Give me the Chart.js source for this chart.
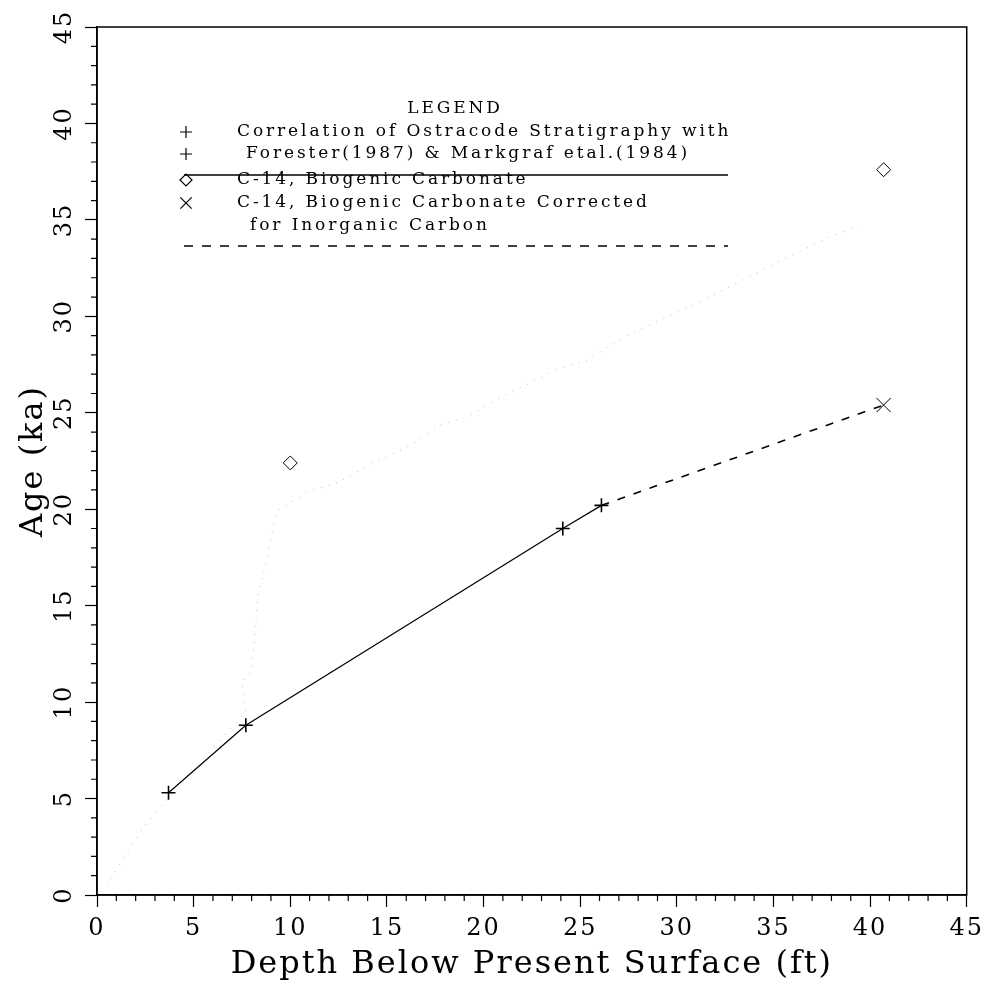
<!DOCTYPE html>
<html>
<head>
<meta charset="utf-8">
<title>Age vs Depth</title>
<script src="https://cdn.jsdelivr.net/npm/chart.js@4/dist/chart.umd.min.js"></script>
<style>
    html, body { margin: 0; padding: 0; background: #fff; }
</style>
</head>
<body>
<canvas id="canvas-age" width="991" height="987"></canvas>
<script>
// depth below present surface (ft) / age (ka)
var ostracodeDepth = [3.7, 7.7, 24.1, 26.1];
var ostracodeAge = [5.3, 8.8, 19.0, 20.2];

var c14Depth = [10.0, 40.7];
var c14Age = [22.4, 37.6];

var correctedDepth = [40.7];
var correctedAge = [25.4];

// faint pencil trace left on the sheet
var traceDepth = [0.5, 1.5, 2.4, 3.3, 7.7, 7.5, 8.0, 8.2, 8.3, 8.8, 9.3, 10.9, 12.5, 14.1, 16.2, 17.8, 19.2, 20.7, 23.9, 25.3, 27.4, 31.1, 35.8, 37.9, 39.4];
var traceAge = [0.5, 2.1, 3.5, 4.6, 9.5, 11.0, 11.6, 13.8, 15.4, 17.5, 19.9, 20.9, 21.4, 22.3, 23.3, 24.4, 24.8, 25.7, 27.3, 27.7, 29.0, 30.7, 33.1, 34.1, 34.7];

var axisTicks = [0, 5, 10, 15, 20, 25, 30, 35, 40, 45];

var legendTitle = 'LEGEND';
var legendLabels = [
    'Correlation of Ostracode Stratigraphy with',
    'Forester(1987) & Markgraf etal.(1984)',
    'C-14, Biogenic Carbonate',
    'C-14, Biogenic Carbonate Corrected',
    'for Inorganic Carbon'
];

var serif = 'DejaVu Serif';

function toPoints(xs, ys) {
    return xs.map(function (x, i) { return { x: x, y: ys[i] }; });
}

var lastOstracode = ostracodeDepth.length - 1;
var correctedLine = [{ x: ostracodeDepth[lastOstracode], y: ostracodeAge[lastOstracode] }]
    .concat(toPoints(correctedDepth, correctedAge));

function setTicks(scale) {
    scale.ticks = axisTicks.map(function (v) { return { value: v }; });
}

// spaced-out plotter lettering
var spacing = {
    id: 'spacing',
    beforeLayout: function (chart) { chart.ctx.letterSpacing = '2px'; },
    beforeDraw: function (chart) { chart.ctx.letterSpacing = '2px'; }
};

// minor ticks every 1 unit + frame round the plot
var frame = {
    id: 'frame',
    afterDraw: function (chart) {
        var ctx = chart.ctx, area = chart.chartArea;
        var xs = chart.scales.x, ys = chart.scales.y;
        ctx.save();
        ctx.strokeStyle = '#000';
        ctx.lineWidth = 1.2;
        ctx.beginPath();
        for (var v = 0; v <= 45; v++) {
            if (v % 5 === 0) continue;
            var px = xs.getPixelForValue(v);
            ctx.moveTo(px, area.bottom);
            ctx.lineTo(px, area.bottom + 6);
            var py = ys.getPixelForValue(v);
            ctx.moveTo(area.left, py);
            ctx.lineTo(area.left - 6, py);
        }
        ctx.stroke();
        ctx.lineWidth = 1.5;
        ctx.strokeRect(area.left, area.top, area.right - area.left, area.bottom - area.top);
        ctx.restore();
    }
};

// boxed-in legend inside the plot
var plotLegend = {
    id: 'plotLegend',
    afterDraw: function (chart) {
        var ctx = chart.ctx;
        var draw = Chart.helpers.drawPoint;
        ctx.save();
        ctx.letterSpacing = '2.9px';
        ctx.fillStyle = '#000';
        ctx.strokeStyle = '#000';
        ctx.font = '17px "' + serif + '"';
        ctx.textBaseline = 'middle';
        ctx.textAlign = 'center';
        ctx.fillText(legendTitle, 455, 109);
        ctx.textAlign = 'left';
        ctx.fillText(legendLabels[0], 237, 132);
        ctx.fillText(legendLabels[1], 246, 154);
        ctx.fillText(legendLabels[2], 237, 180);
        ctx.fillText(legendLabels[3], 237, 203);
        ctx.fillText(legendLabels[4], 250, 226);

        // hollow symbols
        ctx.fillStyle = 'rgba(0, 0, 0, 0)';
        ctx.lineWidth = 1.2;
        draw(ctx, { pointStyle: 'cross', radius: 6, rotation: 0, borderWidth: 1.2 }, 186, 132);
        draw(ctx, { pointStyle: 'cross', radius: 6, rotation: 0, borderWidth: 1.2 }, 186, 154);
        draw(ctx, { pointStyle: 'rectRot', radius: 6, rotation: 0, borderWidth: 1 }, 186, 180);
        draw(ctx, { pointStyle: 'crossRot', radius: 8, rotation: 0, borderWidth: 1 }, 186, 203);

        ctx.beginPath();
        ctx.lineWidth = 1.5;
        ctx.moveTo(184, 175);
        ctx.lineTo(728, 175);
        ctx.stroke();
        ctx.beginPath();
        ctx.setLineDash([9, 9]);
        ctx.moveTo(184, 246);
        ctx.lineTo(728, 246);
        ctx.stroke();
        ctx.restore();
    }
};

var ageChart = new Chart(document.getElementById('canvas-age'), {
    type: 'scatter',
    data: {
        datasets: [{
            label: 'trace',
            data: toPoints(traceDepth, traceAge),
            showLine: true,
            borderColor: 'rgba(0, 0, 0, 0.25)',
            borderWidth: 1,
            borderDash: [1, 7],
            pointRadius: 0
        }, {
            label: legendLabels[0],
            data: toPoints(ostracodeDepth, ostracodeAge),
            showLine: true,
            borderColor: '#000',
            borderWidth: 1.2,
            pointStyle: 'cross',
            pointRadius: 7,
            pointBorderWidth: 1.6,
            pointBorderColor: '#000'
        }, {
            label: legendLabels[3],
            data: correctedLine,
            showLine: true,
            borderColor: '#000',
            borderWidth: 1.6,
            borderDash: [8, 9],
            pointStyle: 'crossRot',
            pointRadius: [0, 10],
            pointBorderWidth: 1,
            pointBorderColor: '#000'
        }, {
            label: legendLabels[2],
            data: toPoints(c14Depth, c14Age),
            showLine: false,
            pointStyle: 'rectRot',
            pointRadius: 7,
            pointBackgroundColor: 'transparent',
            pointBorderColor: '#000',
            pointBorderWidth: 1
        }]
    },
    options: {
        responsive: false,
        devicePixelRatio: 1,
        animation: false,
        events: [],
        layout: { padding: { top: 27, right: 20, bottom: 0, left: 0 } },
        plugins: {
            legend: { display: false },
            tooltip: { enabled: false }
        },
        scales: {
            x: {
                type: 'linear',
                min: 0,
                max: 45,
                afterBuildTicks: setTicks,
                afterFit: function (scale) { scale.height = 92; },
                ticks: { color: '#000', font: { family: serif, size: 24 }, padding: 7, maxRotation: 0 },
                grid: { drawOnChartArea: false, color: '#000', tickLength: 12, tickWidth: 1.2 },
                border: { color: '#000', width: 1.5 },
                title: {
                    display: true,
                    text: 'Depth Below Present Surface (ft)',
                    color: '#000',
                    font: { family: serif, size: 32 },
                    padding: { top: 0, bottom: 3 }
                }
            },
            y: {
                type: 'linear',
                min: 0,
                max: 45,
                afterBuildTicks: setTicks,
                afterFit: function (scale) { scale.width = 97; },
                ticks: { color: '#000', font: { family: serif, size: 24 }, padding: 3, minRotation: 90, maxRotation: 90, crossAlign: 'center' },
                grid: { drawOnChartArea: false, color: '#000', tickLength: 12, tickWidth: 1.2 },
                border: { color: '#000', width: 1.5 },
                title: {
                    display: true,
                    text: 'Age (ka)',
                    color: '#000',
                    font: { family: serif, size: 32 },
                    padding: { top: 14, bottom: 0 }
                }
            }
        }
    },
    plugins: [spacing, frame, plotLegend]
});
</script>
</body>
</html>
